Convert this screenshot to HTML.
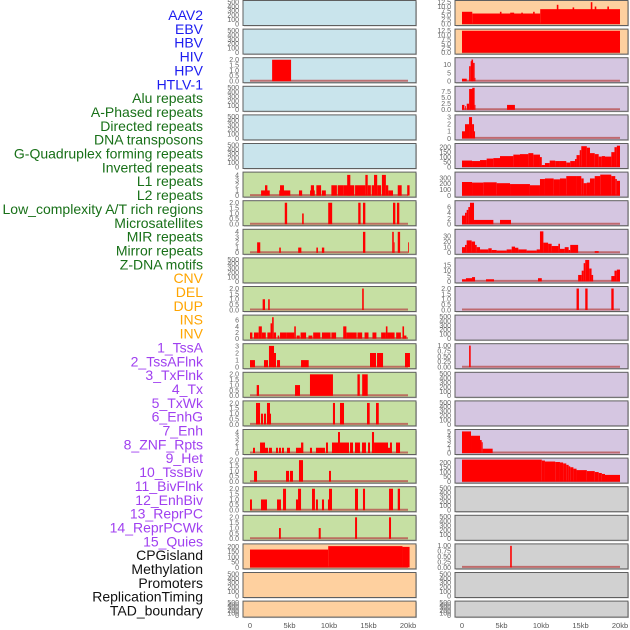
<!DOCTYPE html>
<html><head><meta charset="utf-8"><style>
html,body{margin:0;padding:0;background:#fff;}
svg{display:block;font-family:"Liberation Sans",sans-serif;}
</style></head><body>
<svg id="chart" width="630" height="630" viewBox="0 0 630 630" xmlns="http://www.w3.org/2000/svg">
<g id="labels"></g>
<g id="panels"></g>
<g id="xaxes"></g>
</svg>
<script>
const NS="http://www.w3.org/2000/svg";
// ---- labels ----
const trackLabels=["AAV2","EBV","HBV","HIV","HPV","HTLV-1","Alu repeats","A-Phased repeats","Directed repeats","DNA transposons","G-Quadruplex forming repeats","Inverted repeats","L1 repeats","L2 repeats","Low_complexity A/T rich regions","Microsatellites","MIR repeats","Mirror repeats","Z-DNA motifs","CNV","DEL","DUP","INS","INV","1_TssA","2_TssAFlnk","3_TxFlnk","4_Tx","5_TxWk","6_EnhG","7_Enh","8_ZNF_Rpts","9_Het","10_TssBiv","11_BivFlnk","12_EnhBiv","13_ReprPC","14_ReprPCWk","15_Quies","CPGisland","Methylation","Promoters","ReplicationTiming","TAD_boundary"];
const labelGroups=[6,13,5,15,5];
const xTickValues=[0,5,10,15,20];
const xTickLabels=["0","5kb","10kb","15kb","20kb"];

// ---- left column data: [startKb, endKb, value] ----
const L2=[[2.8,5.2,2]];
const L6=[[1.4,2.5,1],[1.9,2.2,2],[3.7,5.1,1],[3.8,4.3,2],[6.2,6.6,1],[7.6,8.2,1],[7.7,8.1,2],[8.4,9.0,2],[9.1,9.6,1],[10.3,11.0,2],[11.1,11.8,2],[11.8,13.2,2],[12.3,12.7,4],[13.3,14.6,2],[14.6,14.9,4],[14.9,15.3,2],[15.4,15.7,2],[15.7,16.1,4],[16.1,16.6,2],[16.7,17.2,4],[17.2,17.5,2],[17.5,18.1,1],[18.7,19.2,2],[19.9,20.2,2]];
const L7=[[4.4,4.7,2],[6.6,6.8,1],[9.9,10.4,2],[13.7,14.0,2],[14.3,14.6,2],[18.1,18.4,2],[18.6,18.9,2]];
const L8=[[0.9,1.3,2],[3.7,3.9,1],[6.1,6.5,1],[8.4,8.6,1],[9.1,9.4,1],[14.3,14.6,4],[18.0,18.2,4],[18.2,18.3,2],[18.7,19.0,4],[20.0,20.1,2]];
const L10=[[1.6,1.9,1],[2.3,2.5,1],[14.2,14.4,2]];
const L11=[[0,0.3,2],[0.5,1.1,2],[1.1,1.5,4],[1.5,2.0,2],[2.2,2.6,2],[2.6,2.8,5],[2.8,3.0,7],[3.0,3.3,2],[3.5,3.7,1],[3.8,4.6,2],[4.6,5.6,2],[5.6,5.8,4],[5.9,6.3,1],[6.4,7.1,2],[7.4,7.9,1],[8.0,8.9,2],[9.1,10.2,2],[10.3,10.9,2],[11.8,12.2,4],[12.2,13.5,2],[13.6,14.2,2],[14.5,15.0,2],[15.5,16.0,2],[16.6,17.2,2],[17.2,17.4,4],[17.4,18.3,2],[18.5,19.1,2],[19.3,19.5,4],[19.5,19.8,1]];
const L12=[[0,0.63,1],[1.77,2.28,1],[2.4,3.04,3],[2.91,3.29,2],[3.42,3.8,1],[6.46,7.43,1],[15.19,15.95,2],[16.08,16.84,2],[19.62,20.25,2]];
const L13=[[0.85,1.14,1],[5.7,6.33,1],[7.59,10.5,2],[13.6,13.9,2],[14.2,14.9,2]];
const L14=[[0.76,1.27,2],[1.39,1.65,1],[1.77,2.03,1],[2.15,2.53,2],[2.4,2.66,1],[10.5,10.76,2],[11.39,11.9,2],[14.81,15.15,2],[15.95,16.3,2]];
const L15=[[0.38,0.63,1],[1.27,1.9,2],[1.9,2.28,1],[2.4,2.78,1],[3.29,3.54,1],[3.67,3.92,1],[4.05,4.3,1],[4.68,5.06,1],[5.82,6.46,1],[6.46,6.75,2],[7.59,7.85,1],[8.35,9.49,1],[9.62,9.87,2],[10.38,11.14,2],[11.14,11.39,4],[11.39,12.53,2],[12.66,13.04,2],[13.29,13.92,2],[14.18,14.68,2],[14.94,15.19,2],[15.44,15.7,4],[15.7,17.47,2],[17.47,17.72,1],[17.72,17.97,2],[18.48,18.99,2]];
const L16=[[0.51,0.89,1],[4.56,4.94,1],[5.06,5.44,1],[6.2,6.71,2],[10.0,10.25,1]];
const L17=[[0,0.25,1],[1.39,2.15,1],[3.42,3.92,1],[4.18,4.56,2],[5.82,6.08,1],[6.08,6.46,2],[7.85,8.22,2],[8.35,8.6,1],[9.11,9.37,1],[9.87,10.13,1],[10.0,10.38,2],[13.29,13.67,2],[14.3,14.56,2],[17.6,18.1,2],[18.7,18.99,2]];
const L18=[[3.67,3.9,1],[8.7,8.95,1],[13.3,13.55,2],[17.6,17.85,2]];
const L19=[[0,9.9,172],[9.9,19.3,205],[19.3,20.2,198]];

// ---- right column data ----
const R0=[[0,1.3,7],[1.3,9.9,6],[9.9,20,8.5],[4.8,5.0,7],[6.1,6.6,6.5],[7.5,7.7,6.5],[9.0,9.2,7],[12.0,12.2,11],[14.0,14.2,9.5],[16.3,16.5,12.5],[16.8,17.0,10],[18.4,18.6,10]];
const R1=[[0,20,12.5]];
const R2=[[0,0.6,1.5],[0.9,1.1,9],[1.1,1.4,12],[1.2,1.4,13],[1.4,1.6,11],[1.6,1.7,2]];
const R3=[[0,0.3,2],[0.4,0.5,1.5],[0.6,0.9,2.5],[0.9,1.4,8.5],[1.3,1.6,9],[1.6,1.7,2],[5.7,6.7,2]];
const R4=[[0,0.38,1],[0.38,0.89,2],[0.89,1.27,3],[1.27,1.52,2],[1.52,1.65,1]];
const R5edges=[0,1.27,2.28,3.12,3.97,4.81,6.5,7.34,8.4,9.03,9.87,10.1,10.5,11.1,11.8,12.4,13.2,13.7,14.3,14.5,14.9,15.1,15.8,16.2,16.8,17.3,17.7,18.1,18.9,19.3,19.6,20];
const R5vals=[65,60,70,85,90,110,125,130,140,125,100,20,40,65,60,60,45,60,80,120,170,210,195,140,130,105,110,105,150,200,215];
const R6edges=[0,1.27,2.7,4.39,6.08,8.6,9.87,10.5,11.6,12.4,13.2,14.5,15.1,15.4,15.8,16.2,16.8,17.5,18.9,19.4,19.6,20];
const R6vals=[230,220,225,210,195,175,280,290,275,290,330,330,290,210,220,290,330,355,330,280,250];
const R7edges=[0,0.38,0.59,0.8,1.01,1.52,3.97];
const R7vals=[3,4,5,6,7.5,1.5];
const R7extra=[[4.81,6.2,1.5]];
const R8edges=[0,0.38,0.59,1.22,1.65,1.86,2.28,3.33,3.76,4.39,5.65,6.29,6.71,7.13,8.19,9.45,9.87,10.3,10.9,11.35,12.2,12.4,13.0,13.5,13.7,14.7];
const R8vals=[10,14,22,20,14,10,6,8,5,4,6,11,9,6,4,6,38,18,16,12,16,7,10,5,14];
const R8extra=[[16.8,17.3,3]];
const R9=[[0,0.5,2],[0.5,1.27,3],[1.27,1.65,4],[3.04,4.05,2],[9.62,10.1,3],[14.7,15.15,6],[15.15,15.4,10],[15.4,15.6,17],[15.6,16.1,20],[16.1,16.4,12],[16.4,16.6,6],[18.9,19.3,5],[19.3,19.6,10],[19.6,20,11]];
const R10=[[14.5,14.8,2],[15.6,15.9,2],[18.9,19.2,2]];
const R12=[[0.9,1.1,1]];
const R15=[[0,1.14,5],[1.14,2.28,4],[2.28,2.49,3],[2.49,2.62,2.5],[2.62,3.88,1]];
const R16edges=[0,10.1,10.5,11.8,12.4,12.8,13.2,13.5,13.7,14.1,14.5,15.8,16.8,17.3,17.7,18.1,20];
const R16vals=[240,220,210,205,200,190,175,160,150,135,120,110,100,90,80,70];
const R19=[[6.1,6.3,1]];

// ---- tick label sets ----
const ticksEmpty=[0,100,200,300,400,500];
const ticks2=[0,0.5,1.0,1.5,2.0];
const ticks4=[0,1,2,3,4];
const ticks3=[0,1,2,3];
const ticks6=[0,2,4,6];
const ticks200=[0,50,100,150,200];
const ticks12=[0,2.5,5.0,7.5,10.0,12.5];
const ticks10=[0,5,10];
const ticks75=[0,2.5,5.0,7.5];
const ticks300=[0,100,200,300];
const ticks30=[0,10,20,30];
const ticks15=[0,5,10,15];
const ticks1=[0,0.25,0.5,0.75,1.0];
const ticks5=[0,1,2,3,4,5];

function stepsToBars(edges,vals){const o=[];for(let i=0;i<vals.length;i++)o.push([edges[i],edges[i+1],vals[i]]);return o;}

const C_BLUE="#c9e4ec",C_GREEN="#c6e0a3",C_ORANGE="#fed09f",C_PURPLE="#d5c6e1",C_GREY="#d1d1d1";
const leftPanels=[
 [null,ticksEmpty,500,0],[null,ticksEmpty,500,0],[L2,ticks2,2.05,1],[null,ticksEmpty,500,0],[null,ticksEmpty,500,0],[null,ticksEmpty,500,0],
 [L6,ticks4,4.25,0],[L7,ticks2,2.05,1],[L8,ticks4,4.2,0],[null,ticksEmpty,500,0],[L10,ticks2,2.05,1],[L11,ticks6,7.2,0],
 [L12,ticks3,3.1,0],[L13,ticks2,2.05,1],[L14,ticks2,2.05,1],[L15,ticks4,4.2,0],[L16,ticks2,2.05,1],[L17,ticks2,2.05,1],[L18,ticks2,2.05,1],
 [L19,ticks200,212,0],[null,ticksEmpty,500,0],[null,ticksEmpty,500,0]];
const rightPanels=[
 [R0,ticks12,12.6,1],[R1,ticks12,12.6,1],[R2,ticks10,13.2,0],[R3,ticks75,9.0,1],[R4,ticks3,3.1,0],[stepsToBars(R5edges,R5vals),ticks200,222,0],
 [stepsToBars(R6edges,R6vals),ticks300,372,0],[stepsToBars(R7edges,R7vals).concat(R7extra),ticks6,7.7,0],[stepsToBars(R8edges,R8vals).concat(R8extra),ticks30,39,0],
 [R9,ticks15,20.5,0],[R10,ticks2,2.05,1],[null,ticksEmpty,500,0],[R12,ticks1,1.02,2],[null,ticksEmpty,500,0],[null,ticksEmpty,500,0],
 [R15,ticks5,5.1,0],[stepsToBars(R16edges,R16vals),ticks200,230,0],[null,ticksEmpty,500,0],[null,ticksEmpty,500,0],[R19,ticks1,1.02,2],[null,ticksEmpty,500,0],[null,ticksEmpty,500,0]];
const leftBg=i=>i<6?C_BLUE:(i<19?C_GREEN:C_ORANGE);
const rightBg=i=>i<2?C_ORANGE:(i<17?C_PURPLE:C_GREY);

function el(tag,attrs,parent){const e=document.createElementNS(NS,tag);for(const k in attrs)e.setAttribute(k,attrs[k]);parent.appendChild(e);return e;}

const lg=document.getElementById('labels');
const groupColors=["#1c1cf0","#187018","#ffa500","#a040f0","#111111"];
let gi=0,cnt=0;
trackLabels.forEach((t,i)=>{
  while(cnt>=labelGroups[gi]){gi++;cnt=0;}
  cnt++;
  const tx=el('text',{x:203,y:15+i*13.85+5,'text-anchor':'end','font-size':'14',fill:groupColors[gi]},lg);
  
  
  tx.textContent=t;
});

const pg=document.getElementById('panels');
function fmt(v,d){return v.toFixed(d);}
function drawPanel(spec,i,side){
  const [bars,ticks,ymax,dec]=spec;
  const px0=side==='left'?243:455, pw=173;
  const x0=side==='left'?250:462, kbScale=7.9;
  const top=0.5+i*28.6, h=(i===21)?16:25;
  const zeroY=top+h-1.5, topY=top+1.5;
  const xs=kb=>x0+kb*kbScale;
  const ys=v=>zeroY-Math.min(v,ymax)/ymax*(zeroY-topY);
  const g=el('g',{},pg);
  
  
  el('rect',{x:px0+1,y:top+1,width:pw,height:h,fill:'#999',opacity:0.5},g);
  const r=el('rect',{x:px0,y:top,width:pw,height:h,fill:side==='left'?leftBg(i):rightBg(i),stroke:'#5f5f5f','stroke-width':1},g);
  
  
  if(bars){
    el('line',{x1:xs(0),x2:xs(20),y1:zeroY-0.5,y2:zeroY-0.5,stroke:'#b84a4a','stroke-width':2,opacity:0.75},g);
    bars.forEach(b=>{
      const rb=el('rect',{x:xs(b[0]),y:ys(b[2]),width:Math.max(0.8,xs(b[1])-xs(b[0])),height:zeroY-ys(b[2]),fill:'#ff0000'},g);
      
      
    });
  }
  const tickRight=px0-4;
  ticks.forEach(t=>{
    const yy=ys(t);
    const tt=el('text',{x:tickRight,y:yy+2.4,'text-anchor':'end','font-size':'7',fill:'#666'},g);
    
    
    tt.textContent=fmt(t,dec);
  });
}
leftPanels.forEach((s,i)=>drawPanel(s,i,'left'));
rightPanels.forEach((s,i)=>drawPanel(s,i,'right'));

const xg=document.getElementById('xaxes');
[250,462].forEach((x0,k)=>{
  xTickValues.forEach((v,j)=>{
    const t=el('text',{x:x0+v*7.9,y:628,'text-anchor':'middle','font-size':'7.5',fill:'#555'},xg);
    
    
    t.textContent=xTickLabels[j];
  });
});
</script>
</body></html>
